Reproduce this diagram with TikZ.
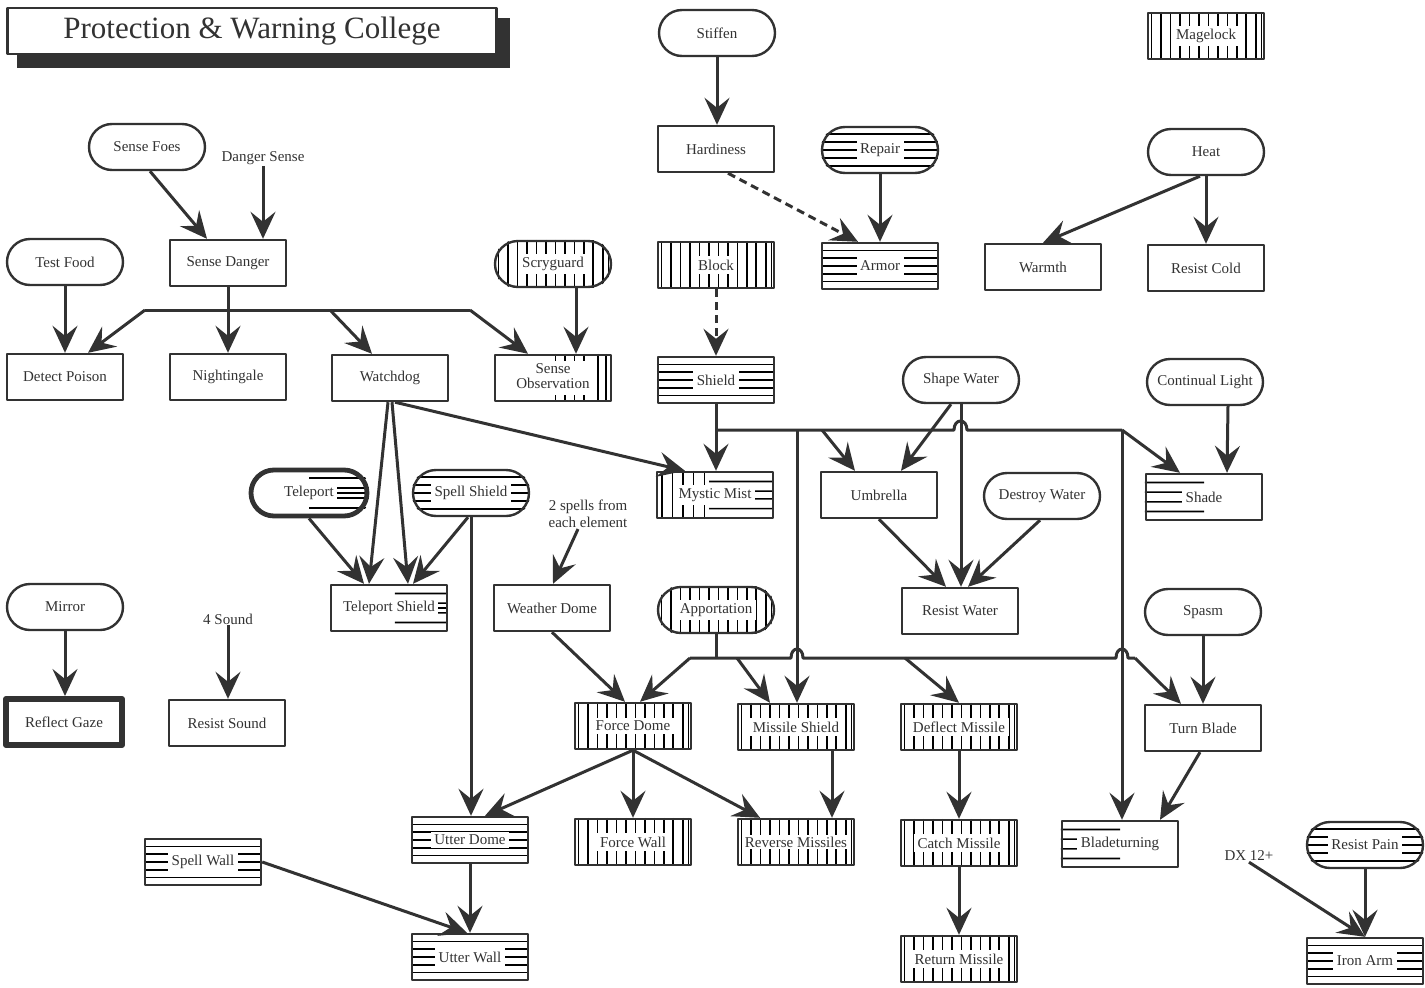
\documentclass[tikz,border=0pt]{standalone}
\usepackage{fontspec}
\setmainfont{Liberation Serif}
\usetikzlibrary{arrows.meta,calc}
\pgfdeclarelayer{background}
\pgfsetlayers{background,main}
\definecolor{ink}{RGB}{50,50,50}
\newcommand\fs{\fontsize{15}{17}\selectfont}
\newcommand\wt[1]{{\setlength{\fboxsep}{3.5pt}\colorbox{white}{#1}}}
\newcommand\HH[5]{%
  \begin{scope}
    \clip[rounded corners=#2] (#1.south west) rectangle (#1.north east);
    \foreach \f in {#5}{%
      \coordinate (hL) at ($(#1.north west)!\f!(#1.south west)$);
      \coordinate (hR) at ($(#1.north east)!\f!(#1.south east)$);
      \draw[hatch] ($(hL)!#3!(hR)$) -- ($(hL)!#4!(hR)$);
    }
  \end{scope}}
\newcommand\VV[5]{%
  \begin{scope}
    \clip[rounded corners=#2] (#1.south west) rectangle (#1.north east);
    \foreach \f in {#5}{%
      \coordinate (vT) at ($(#1.north west)!\f!(#1.north east)$);
      \coordinate (vB) at ($(#1.south west)!\f!(#1.south east)$);
      \draw[hatch] ($(vT)!#3!(vB)$) -- ($(vT)!#4!(vB)$);
    }
  \end{scope}}
\begin{document}
\begin{tikzpicture}[x=1pt,y=-1pt,color=ink,line join=round,
  box/.style={draw, line width=2.4pt, minimum width=116pt, minimum height=46pt, inner sep=1pt, font=\fs},
  pill/.style={box, rounded corners=23pt},
  txt/.style={font=\fs, inner sep=1pt},
  ln/.style={line width=3pt},
  arr/.style={line width=3pt, -{Stealth[length=27pt,width=25pt,inset=10pt]}},
  hatch/.style={line width=1.6pt}]
\useasboundingbox (0,0) rectangle (1425,988);
% title
\fill[ink] (17,18) rectangle (510,68);
\node[draw, fill=white, line width=2.2pt, minimum width=489pt, minimum height=46pt, font=\fontsize{31}{34}\selectfont] (title) at (252,31) {Protection \& Warning College};
% nodes
\node[pill] (stf) at (717,33) {Stiffen};
\node[box] (mg) at (1206,36) {\wt{Magelock}};
\node[pill] (sf) at (147,147) {Sense Foes};
\node[txt] (ds) at (263,158) {Danger Sense};
\node[box] (hd) at (716,149) {Hardiness};
\node[pill] (rp) at (880,150) {\wt{Repair}};
\node[pill] (ht) at (1206,152) {Heat};
\node[pill] (tf) at (65,262) {Test Food};
\node[box] (sd) at (228,263) {Sense Danger};
\node[pill] (sg) at (553,264) {\wt{Scryguard}};
\node[box] (bl) at (716,265) {\wt{Block}};
\node[box] (ar) at (880,266) {\wt{Armor}};
\node[box] (wm) at (1043,267) {Warmth};
\node[box] (rc) at (1206,268) {Resist Cold};
\node[box] (dp) at (65,377) {Detect Poison};
\node[box] (ng) at (228,377) {Nightingale};
\node[box] (wd) at (390,378) {Watchdog};
\node[box] (so) at (553,378) {{\setlength{\fboxsep}{1pt}\colorbox{white}{\begin{tabular}{@{}c@{}}Sense\\[-2pt]Observation\end{tabular}}}};
\node[box] (sh) at (716,380) {\wt{Shield}};
\node[pill] (swt) at (961,380) {Shape Water};
\node[pill] (cl) at (1205,382) {Continual Light};
\node[pill, line width=4.8pt] (tp) at (309,493) {\wt{Teleport}};
\node[pill] (ss) at (471,493) {\wt{Spell Shield}};
\node[txt, align=center] (two) at (588,514) {2 spells from\\each element};
\node[box] (mm) at (715,495) {\wt{Mystic Mist}};
\node[box] (um) at (879,495) {Umbrella};
\node[pill] (dw) at (1042,496) {Destroy Water};
\node[box] (sa) at (1204,497) {\wt{Shade}};
\node[pill] (mr) at (65,607) {Mirror};
\node[txt] (snd) at (228,619) {4 Sound};
\node[box] (ts) at (389,608) {\wt{Teleport Shield}};
\node[box] (wdm) at (552,608) {Weather Dome};
\node[pill] (ap) at (716,610) {\wt{Apportation}};
\node[box] (rw) at (960,611) {Resist Water};
\node[pill] (sp) at (1203,612) {Spasm};
\node[box, line width=6pt] (rg) at (64,722) {Reflect Gaze};
\node[box] (rs) at (227,723) {Resist Sound};
\node[box] (fd) at (633,726) {\wt{Force Dome}};
\node[box] (ms) at (796,727) {\wt{Missile Shield}};
\node[box] (dm) at (959,727) {\wt{Deflect Missile}};
\node[box] (tb) at (1203,728) {Turn Blade};
\node[box] (swl) at (203,862) {\wt{Spell Wall}};
\node[box] (ud) at (470,840) {\wt{Utter Dome}};
\node[box] (fw) at (633,842) {\wt{Force Wall}};
\node[box] (rm) at (796,842) {{\setlength{\fboxsep}{1.5pt}\colorbox{white}{Reverse Missiles}}};
\node[box] (cm) at (959,843) {\wt{Catch Missile}};
\node[box] (bt) at (1120,844) {\wt{Bladeturning}};
\node[txt] (dx) at (1249,856) {DX 12+};
\node[pill] (rpn) at (1365,845) {\wt{Resist Pain}};
\node[box] (uw) at (470,957) {\wt{Utter Wall}};
\node[box] (rtm) at (959,959) {\wt{Return Missile}};
\node[box] (ia) at (1365,961) {\wt{Iron Arm}};
% bus coordinates
\coordinate (b1) at (228,310);
\coordinate (bL) at (145,310);
\coordinate (bW) at (330,310);
\coordinate (bR) at (470,310);
\coordinate (s1) at (716,430);
\coordinate (s797) at (797,430);
\coordinate (sU) at (822,430);
\coordinate (j1a) at (954,430);
\coordinate (j1b) at (967,430);
\coordinate (sR) at (1122,430);
\coordinate (a1) at (716,658);
\coordinate (aL) at (690,658);
\coordinate (aM) at (737,658);
\coordinate (ja1) at (791,658);
\coordinate (ja2) at (803,658);
\coordinate (aD) at (905,658);
\coordinate (jb1) at (1116,658);
\coordinate (jb2) at (1128,658);
\coordinate (aR) at (1135,658);
% connectors
\draw[arr] (stf.south) -- (stf.south |- hd.north);
\draw[arr, dash pattern=on 8pt off 5pt] ([xshift=12pt]hd.south) -- ([xshift=-22pt]ar.north);
\draw[arr] (rp.south) -- (rp.south |- ar.north);
\draw[arr] ([xshift=-6pt]ht.south) -- (wm.north);
\draw[arr] (ht.south) -- (ht.south |- rc.north);
\draw[arr] ([xshift=3pt]sf.south) -- ([xshift=-21pt]sd.north);
\draw[arr] (ds.south) -- (ds.south |- sd.north);
\draw[arr] (tf.south) -- (tf.south |- dp.north);
\draw[ln] (sd.south) -- (b1);
\draw[ln] (bL) -- (bR);
\draw[arr] (bL) -- ([xshift=23pt]dp.north);
\draw[arr] (b1) -- (ng.north);
\draw[arr] (bW) -- ([xshift=-18pt]wd.north);
\draw[arr] (bR) -- ([xshift=-25pt]so.north);
\draw[arr] ([xshift=23pt]sg.south) -- ([xshift=23pt]so.north);
\draw[arr, dash pattern=on 8pt off 5pt] (bl.south) -- (bl.south |- sh.north);
\draw[arr] (sh.south) -- (sh.south |- mm.north);
\draw[arr] ([xshift=5pt]wd.south) -- ([xshift=-30pt]mm.north);
\draw[arr] ([xshift=-2pt]wd.south) -- ([xshift=-20pt]ts.north);
\draw[arr] ([xshift=2pt]wd.south) -- ([xshift=19pt]ts.north);
\draw[arr] (tp.south) -- ([xshift=-25pt]ts.north);
\draw[arr] ([xshift=-3pt]ss.south) -- ([xshift=24pt]ts.north);
\draw[arr] (ss.south) -- (ss.south |- ud.north);
% shield bus
\draw[ln] (s1) -- (j1a) .. controls +(0,-12) and +(0,-12) .. (j1b) -- (sR);
\draw[arr] (sU) -- ([xshift=-24pt]um.north);
\draw[arr] (sR) -- ([xshift=-24pt]sa.north);
\draw[arr] (s797) -- (s797 |- ms.north);
\draw[arr] (sR) -- (sR |- bt.north);
\draw[arr] ([xshift=-10pt]swt.south) -- ([xshift=22pt]um.north);
\draw[arr] (swt.south) -- (swt.south |- rw.north);
\draw[arr] (um.south) -- ([xshift=-14pt]rw.north);
\draw[arr] ([xshift=-2pt]dw.south) -- ([xshift=8pt]rw.north);
\draw[arr] ([xshift=23pt]cl.south) -- ([xshift=23pt]sa.north);
\draw[arr] ([xshift=-10pt]two.south) -- ([xshift=1pt]wdm.north);
\draw[arr] (wdm.south) -- ([xshift=-8pt]fd.north);
% apportation bus
\draw[ln] (ap.south) -- (a1);
\draw[ln] (aL) -- (ja1) .. controls +(0,-12) and +(0,-12) .. (ja2) -- (jb1) .. controls +(0,-12) and +(0,-12) .. (jb2) -- (aR);
\draw[arr] (aL) -- ([xshift=7pt]fd.north);
\draw[arr] (aM) -- ([xshift=-26pt]ms.north);
\draw[arr] (aD) -- (dm.north);
\draw[arr] (aR) -- ([xshift=-22pt]tb.north);
\draw[arr] (sp.south) -- (sp.south |- tb.north);
% lower part
\draw[arr] (fd.south) -- ([xshift=15pt]ud.north);
\draw[arr] (fd.south) -- (fd.south |- fw.north);
\draw[arr] (fd.south) -- ([xshift=-36pt]rm.north);
\draw[arr] ([xshift=36pt]ms.south) -- ([xshift=36pt]rm.north);
\draw[arr] (dm.south) -- (dm.south |- cm.north);
\draw[arr] (cm.south) -- (cm.south |- rtm.north);
\draw[arr] ([xshift=-3pt]tb.south) -- ([xshift=40pt]bt.north);
\draw[arr] (ud.south) -- (ud.south |- uw.north);
\draw[arr] (swl.east) -- ([xshift=-3pt]uw.north);
\draw[arr] (dx.south) -- (ia.north);
\draw[arr] (rpn.south) -- (rpn.south |- ia.north);
\draw[arr] (mr.south) -- (mr.south |- rg.north);
\draw[arr] (snd.south) -- (snd.south |- rs.north);
% hatching
\begin{pgfonlayer}{background}
\VV{mg}{0.01pt}{0}{1}{0.04,0.12,0.2,0.28,0.36,0.44,0.52,0.6,0.68,0.76,0.84,0.92,0.97}
\HH{rp}{23pt}{0}{1}{0.17,0.33,0.5,0.67,0.83}
\VV{sg}{23pt}{0}{1}{0.04,0.12,0.2,0.28,0.36,0.44,0.52,0.6,0.68,0.76,0.84,0.92,0.97}
\VV{bl}{0.01pt}{0}{1}{0.04,0.12,0.2,0.28,0.36,0.44,0.52,0.6,0.68,0.76,0.84,0.92,0.97}
\HH{ar}{0.01pt}{0}{1}{0.18,0.34,0.5,0.66,0.82}
\VV{so}{0.01pt}{0}{1}{0.52,0.6,0.68,0.76,0.88,0.95}
\HH{sh}{0.01pt}{0}{1}{0.18,0.34,0.5,0.66,0.82}
\HH{tp}{23pt}{0.5}{1}{0.2,0.4,0.5,0.6,0.8}
\HH{ss}{23pt}{0}{1}{0.17,0.33,0.5,0.67,0.83}
\VV{mm}{0.01pt}{0}{1}{0.05,0.14,0.23,0.32,0.41}
\HH{mm}{0.01pt}{0.45}{1}{0.22,0.42,0.58,0.78}
\HH{sa}{0.01pt}{0}{0.5}{0.2,0.4,0.6,0.8}
\HH{ts}{0.01pt}{0.55}{1}{0.2,0.4,0.5,0.6,0.8}
\VV{ap}{23pt}{0}{1}{0.04,0.12,0.2,0.28,0.36,0.44,0.52,0.6,0.68,0.76,0.84,0.92,0.97}
\VV{fd}{0.01pt}{0}{1}{0.04,0.12,0.2,0.28,0.36,0.44,0.52,0.6,0.68,0.76,0.84,0.92,0.97}
\VV{ms}{0.01pt}{0}{1}{0.04,0.12,0.2,0.28,0.36,0.44,0.52,0.6,0.68,0.76,0.84,0.92,0.97}
\VV{dm}{0.01pt}{0}{1}{0.04,0.12,0.2,0.28,0.36,0.44,0.52,0.6,0.68,0.76,0.84,0.92,0.97}
\VV{fw}{0.01pt}{0}{1}{0.04,0.12,0.2,0.28,0.36,0.44,0.52,0.6,0.68,0.76,0.84,0.92,0.97}
\VV{rm}{0.01pt}{0}{1}{0.04,0.12,0.2,0.28,0.36,0.44,0.52,0.6,0.68,0.76,0.84,0.92,0.97}
\VV{cm}{0.01pt}{0}{1}{0.04,0.12,0.2,0.28,0.36,0.44,0.52,0.6,0.68,0.76,0.84,0.92,0.97}
\VV{rtm}{0.01pt}{0}{1}{0.04,0.12,0.2,0.28,0.36,0.44,0.52,0.6,0.68,0.76,0.84,0.92,0.97}
\HH{swl}{0.01pt}{0}{1}{0.18,0.34,0.5,0.66,0.82}
\HH{ud}{0.01pt}{0}{1}{0.18,0.34,0.5,0.66,0.82}
\HH{uw}{0.01pt}{0}{1}{0.18,0.34,0.5,0.66,0.82}
\HH{ia}{0.01pt}{0}{1}{0.18,0.34,0.5,0.66,0.82}
\HH{bt}{0.01pt}{0}{0.5}{0.2,0.4,0.6,0.8}
\HH{rpn}{23pt}{0}{1}{0.17,0.33,0.5,0.67,0.83}
\end{pgfonlayer}
\end{tikzpicture}
\end{document}
